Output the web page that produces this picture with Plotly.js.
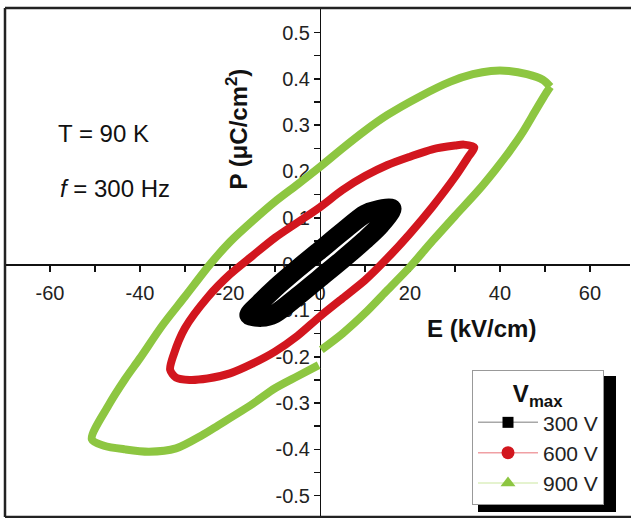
<!DOCTYPE html>
<html><head><meta charset="utf-8">
<script src="https://cdn.plot.ly/plotly-3.0.1.min.js"></script>
<style>html,body{margin:0;padding:0;background:#fff;overflow:hidden}</style>
</head><body><div id="chart" style="width:631px;height:518px"></div>
<script>
// ---- data (E in kV/cm, P in uC/cm^2), closed loops ----
const seriesNames = ['300 V', '600 V', '900 V'];
const seriesColors = ['#000000', '#d2161e', '#8dc641'];
const legendLineColors = ['#a8a8a8', '#f0a0a4', '#dcefbf'];
const legendSymbols = ['square', 'circle', 'triangle-up'];

const E_300 = [16, 13, 10, 5, 0, -5, -10, -13.5, -15.8, -13, -10, -5, 0, 5, 10, 13.5, 16];
const P_300 = [0.12, 0.118, 0.108, 0.07, 0.03, -0.01, -0.052, -0.085, -0.11, -0.115, -0.107, -0.07, -0.03, 0.01, 0.052, 0.085, 0.12];

const E_600 = [34.3, 32, 30, 25, 20, 15, 10, 5, 0, -5, -10, -15, -20, -25, -30, -32.5, -33.3, -32, -29, -25, -20, -15, -10, -5, 0, 5, 10, 15, 20, 25, 30, 33, 34.3];
const P_600 = [0.252, 0.258, 0.256, 0.248, 0.232, 0.214, 0.19, 0.16, 0.123, 0.09, 0.057, 0.018, -0.022, -0.072, -0.138, -0.195, -0.228, -0.245, -0.25, -0.247, -0.236, -0.215, -0.189, -0.155, -0.113, -0.074, -0.035, 0.013, 0.066, 0.124, 0.188, 0.232, 0.252];

const E_900 = [51.2, 49.5, 46, 42, 38, 34, 29, 22, 15, 10, 5, 0, -5, -10, -15, -20, -24.4, -30, -35, -40, -43.3, -47, -50.7,
               -48, -43.3, -38, -32, -26.3, -22.6, -15, -10, -5, -0.3, null, 0.3, 5, 10, 15, 20, 25, 30, 35, 39, 42, 45, 48, 50.3, 51.2];
const P_900 = [0.383, 0.398, 0.41, 0.417, 0.417, 0.41, 0.394, 0.361, 0.322, 0.288, 0.25, 0.21, 0.172, 0.135, 0.093, 0.048, 0.0, -0.07, -0.132, -0.203, -0.248, -0.305, -0.378,
               -0.392, -0.4, -0.405, -0.398, -0.37, -0.348, -0.302, -0.268, -0.242, -0.218, null, -0.185, -0.15, -0.106, -0.056, -0.006, 0.05, 0.104, 0.157, 0.204, 0.242, 0.284, 0.333, 0.37, 0.383];

const xTickVals = [-60, -50, -40, -30, -20, -10, 0, 10, 20, 30, 40, 50, 60];
const xTickText = ['-60', '', '-40', '', '-20', '', '0', '', '20', '', '40', '', '60'];
const yTickVals = [-0.5, -0.45, -0.4, -0.35, -0.3, -0.25, -0.2, -0.15, -0.1, -0.05, 0, 0.05, 0.1, 0.15, 0.2, 0.25, 0.3, 0.35, 0.4, 0.45, 0.5];
const yTickText = ['-0.5', '', '-0.4', '', '-0.3', '', '-0.2', '', '-0.1', '', '0.0', '', '0.1', '', '0.2', '', '0.3', '', '0.4', '', '0.5'];

const xRange = [-70, 68.9];
const yRange = [-0.546, 0.553];

// ---- build ----
const FONT = 'Liberation Sans, Arial, Helvetica, sans-serif';
const loopsE = [E_300, E_600, E_900];
const loopsP = [P_300, P_600, P_900];
const widths = [19, 8, 8];

const traces = [];
for (let i = 2; i >= 0; i--) {
  traces.push({
    x: loopsE[i], y: loopsP[i], mode: 'lines', type: 'scatter',
    line: {color: seriesColors[i], width: widths[i], shape: 'spline', smoothing: 0.8},
    showlegend: false, hoverinfo: 'skip', connectgaps: false
  });
}
for (let i = 0; i < 3; i++) {
  traces.push({
    x: [null], y: [null], mode: 'lines+markers', type: 'scatter', name: seriesNames[i],
    line: {color: legendLineColors[i], width: 1.5},
    marker: {symbol: legendSymbols[i], color: seriesColors[i], size: i === 0 ? 11 : 13}
  });
}

const xZeroFrac = (0 - xRange[0]) / (xRange[1] - xRange[0]);
const yZeroFrac = (0 - yRange[0]) / (yRange[1] - yRange[0]);

const axisCommon = {
  showgrid: false, zeroline: false, showline: true, linecolor: '#111', linewidth: 1.5,
  ticks: 'outside', ticklen: 6, tickwidth: 1.5, tickcolor: '#111', tickmode: 'array',
  tickfont: {family: FONT, size: 20, color: '#222'}, layer: 'below traces', anchor: 'free'
};

const layout = {
  width: 631, height: 518,
  margin: {l: 5, r: 1, t: 8, b: 1},
  paper_bgcolor: '#fff', plot_bgcolor: '#fff',
  xaxis: Object.assign({}, axisCommon, {range: xRange, tickvals: xTickVals, ticktext: xTickText, position: yZeroFrac, ticklabelstandoff: 4}),
  yaxis: Object.assign({}, axisCommon, {range: yRange, tickvals: yTickVals, ticktext: yTickText, position: xZeroFrac}),
  showlegend: true,
  legend: {
    x: 0.7472, y: 0.2888, xanchor: 'left', yanchor: 'top',
    bgcolor: '#fff', bordercolor: '#999', borderwidth: 1,
    font: {family: FONT, size: 21, color: '#222'}, itemwidth: 60,
    title: {text: '<b>V<sub>max</sub></b>', side: 'top center', font: {family: FONT, size: 24, color: '#111'}}
  },
  annotations: [
    {x: -18.5, y: 0.292, xref: 'x', yref: 'y', text: '<b>P (μC/cm<sup>2</sup>)</b>', textangle: -90, showarrow: false,
     font: {family: FONT, size: 24, color: '#111'}},
    {x: 36, y: -0.138, xref: 'x', yref: 'y', text: '<b>E (kV/cm)</b>', showarrow: false,
     font: {family: FONT, size: 24, color: '#111'}},
    {x: -58.7, y: 0.281, xref: 'x', yref: 'y', xanchor: 'left', text: 'T = 90 K', showarrow: false,
     font: {family: FONT, size: 24, color: '#111'}},
    {x: -58.2, y: 0.164, xref: 'x', yref: 'y', xanchor: 'left', text: '<i>f</i> = 300 Hz', showarrow: false,
     font: {family: FONT, size: 24, color: '#111'}}
  ],
  shapes: [
    {type: 'line', xref: 'paper', yref: 'paper', x0: 0, x1: 0, y0: 0, y1: 1, line: {color: '#222', width: 2.5}},
    {type: 'line', xref: 'paper', yref: 'paper', x0: 0, x1: 1.01, y0: 1, y1: 1, line: {color: '#222', width: 2.5}},
    {type: 'line', xref: 'paper', yref: 'paper', x0: 0, x1: 1.01, y0: 0, y1: 0, line: {color: '#222', width: 2.5}},
    {type: 'rect', xref: 'paper', yref: 'paper', x0: (478 - 5) / 625, x1: (616 - 5) / 625, y0: (517 - 512) / 509, y1: (517 - 376) / 509,
     fillcolor: '#000', line: {width: 0}, layer: 'above'}
  ]
};

Plotly.newPlot('chart', traces, layout, {displayModeBar: false, staticPlot: true});
</script></body></html>
